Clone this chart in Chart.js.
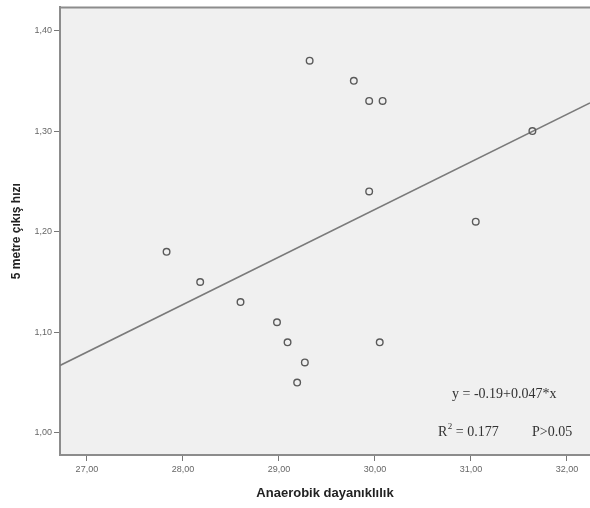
<!DOCTYPE html>
<html>
<head>
<meta charset="utf-8">
<script src="https://cdn.jsdelivr.net/npm/chart.js@4/dist/chart.umd.min.js"></script>
<style>
  html, body { margin: 0; padding: 0; background: #ffffff; }
  #wrap { width: 590px; height: 508px; }
</style>
</head>
<body>
<div id="wrap"><canvas id="scatterChart" width="590" height="508"></canvas></div>
<script>
// data
var anaerobik = [29.32, 29.78, 29.94, 30.08, 31.64, 29.94, 31.05, 27.83, 28.18, 28.60, 28.98, 29.09, 29.27, 29.19, 30.05];
var hiz       = [1.37, 1.35, 1.33, 1.33, 1.30, 1.24, 1.21, 1.18, 1.15, 1.13, 1.11, 1.09, 1.07, 1.05, 1.09];

// fit line end points (as drawn)
var fitX = [26.72, 32.24];
var fitY = [1.067, 1.328];

var xTicks = [27, 28, 29, 30, 31, 32];
var yTicks = [1.0, 1.1, 1.2, 1.3, 1.4];

var xTitle = 'Anaerobik dayanıklılık';
var yTitle = '5 metre çıkış hızı';
var eqText = 'y = -0.19+0.047*x';
var r2Text = '0.177';
var pText = 'P>0.05';

var points = anaerobik.map(function(x, i) { return { x: x, y: hiz[i] }; });
var fitLine = fitX.map(function(x, i) { return { x: x, y: fitY[i] }; });

function commaLabel(v) {
    return v.toFixed(2).replace('.', ',');
}

// grey plot background + top border
var plotBg = {
    id: 'plotBg',
    beforeDraw: function(chart) {
        var a = chart.chartArea, ctx = chart.ctx;
        ctx.save();
        ctx.fillStyle = '#f0f0f0';
        ctx.fillRect(a.left, a.top, a.right - a.left, a.bottom - a.top);
        ctx.strokeStyle = '#8c8c8c';
        ctx.lineWidth = 2;
        ctx.beginPath();
        ctx.moveTo(a.left - 1, a.top);
        ctx.lineTo(a.right, a.top);
        ctx.stroke();
        ctx.restore();
    }
};

// regression text in the lower right
var fitNote = {
    id: 'fitNote',
    afterDraw: function(chart) {
        var ctx = chart.ctx;
        var serif = '"Liberation Serif", "Times New Roman", serif';
        ctx.save();
        ctx.fillStyle = '#333333';
        ctx.textBaseline = 'alphabetic';
        ctx.font = '14px ' + serif;
        ctx.textAlign = 'left';
        ctx.fillText(eqText, 452, 398);

        var x = 438, y = 436;
        ctx.fillText('R', x, y);
        x += ctx.measureText('R').width;
        ctx.font = '9px ' + serif;
        ctx.fillText('2', x + 0.5, y - 7);
        x += 5;
        ctx.font = '14px ' + serif;
        ctx.fillText(' = ' + r2Text, x, y);
        ctx.fillText(pText, 532, y);
        ctx.restore();
    }
};

var ctx = document.getElementById('scatterChart').getContext('2d');
var scatterChart = new Chart(ctx, {
    type: 'scatter',
    data: {
        datasets: [
            {
                label: 'Fit',
                type: 'line',
                data: fitLine,
                borderColor: '#7a7a7a',
                borderWidth: 1.6,
                pointRadius: 0,
                fill: false,
                tension: 0,
                order: 2
            },
            {
                label: 'Veri',
                data: points,
                pointStyle: 'circle',
                pointRadius: 3.3,
                pointBorderWidth: 1.4,
                pointBorderColor: '#5a5a5a',
                pointBackgroundColor: 'rgba(0,0,0,0)',
                order: 1
            }
        ]
    },
    options: {
        responsive: false,
        animation: false,
        layout: { autoPadding: false, padding: { top: 4, right: 0, left: 0, bottom: 0 } },
        plugins: {
            legend: { display: false },
            tooltip: { enabled: false }
        },
        scales: {
            x: {
                type: 'linear',
                min: 26.72,
                max: 32.24,
                afterBuildTicks: function(scale) {
                    scale.ticks = xTicks.map(function(v) { return { value: v }; });
                },
                afterFit: function(scale) { scale.height = 53; },
                grid: { drawOnChartArea: false, drawTicks: true, tickLength: 6, color: '#777777', lineWidth: 1 },
                border: { display: true, color: '#8c8c8c', width: 2 },
                ticks: {
                    color: '#666666',
                    font: { family: 'Arial, "Liberation Sans", sans-serif', size: 9 },
                    padding: 3,
                    maxRotation: 0,
                    callback: function(v) { return commaLabel(v); }
                },
                title: {
                    display: true,
                    text: xTitle,
                    color: '#222222',
                    font: { family: 'Arial, "Liberation Sans", sans-serif', size: 13, weight: 'bold' },
                    padding: { top: 0, bottom: 7 }
                }
            },
            y: {
                type: 'linear',
                min: 0.978,
                max: 1.423,
                afterBuildTicks: function(scale) {
                    scale.ticks = yTicks.map(function(v) { return { value: v }; });
                },
                afterFit: function(scale) { scale.width = 60; },
                grid: { drawOnChartArea: false, drawTicks: true, tickLength: 6, color: '#777777', lineWidth: 1 },
                border: { display: true, color: '#8c8c8c', width: 2 },
                ticks: {
                    color: '#666666',
                    font: { family: 'Arial, "Liberation Sans", sans-serif', size: 9 },
                    padding: 2,
                    callback: function(v) { return commaLabel(v); }
                },
                title: {
                    display: true,
                    text: yTitle,
                    color: '#222222',
                    font: { family: 'Arial, "Liberation Sans", sans-serif', size: 12, weight: 'bold' },
                    padding: { top: 9, bottom: 0 }
                }
            }
        }
    },
    plugins: [plotBg, fitNote]
});
</script>
</body>
</html>
